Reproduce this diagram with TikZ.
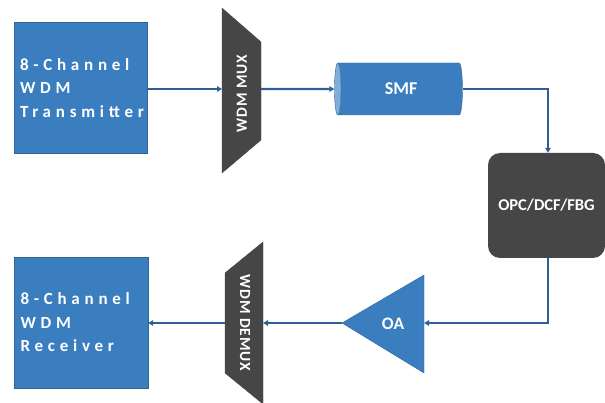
\documentclass[tikz,border=0pt]{standalone}
\usepackage{fontspec}
\setmainfont{Carlito}
\newfontfamily\spacedfont[LetterSpace=28]{Carlito}
\newfontfamily\muxfont[LetterSpace=6]{Carlito}
\usepackage{tikz}
\usetikzlibrary{arrows.meta, positioning, shapes.geometric}

\definecolor{boxblue}{HTML}{3A7EC0}
\definecolor{edgeblue}{HTML}{2F6595}
\definecolor{capblue}{HTML}{7EAED9}
\definecolor{linkblue}{HTML}{2E6096}
\definecolor{darkbox}{HTML}{464646}

\begin{document}
\begin{tikzpicture}[x=1pt, y=1pt, >={Triangle[length=5pt, width=5.5pt]},
  endbox/.style={draw=edgeblue, fill=boxblue, minimum width=133pt, minimum height=131pt,
    text=white, align=left, text width=121pt, font=\fontsize{17}{23.5}\spacedfont\bfseries},
  link/.style={->, line width=2.2pt, linkblue},
  wdm/.style={fill=darkbox, draw=darkbox},
  ]
  \useasboundingbox (0,0) rectangle (605,402);

  % End boxes
  \node[endbox] (tx) at (80.5,314) {8-Channel\\WDM\\Transmitter};
  \node[endbox, minimum width=134pt] (rx) at (81,79.5) {8-Channel\\WDM\\Receiver};

  % MUX and DEMUX
  \draw[wdm] (222,394) -- (261,360) -- (261,262) -- (222,229) -- cycle;
  \node[rotate=90, text=white, font=\fontsize{15.5}{15.5}\muxfont\bfseries] (mux) at (242,308.5) {WDM MUX};
  \coordinate (mux-in) at (222,313);
  \coordinate (mux-out) at (261,313);
  \draw[wdm] (225,129) -- (263,160) -- (263,-2) -- (225,29) -- cycle;
  \node[rotate=-90, text=white, font=\fontsize{15.5}{15.5}\muxfont\bfseries] (demux) at (245,79) {WDM DEMUX};
  \coordinate (demux-in) at (263,79);
  \coordinate (demux-out) at (225,79);

  % Fibre
  \node[cylinder, shape border rotate=180, draw=edgeblue, aspect=0.35, minimum height=128pt, minimum width=52pt,
    cylinder uses custom fill, cylinder body fill=boxblue, cylinder end fill=capblue,
    text=white, font=\fontsize{18}{18}\selectfont\bfseries] (smf) at (401,313) {SMF\hspace{12pt}};

  % Compensation
  \node[fill=darkbox, rounded corners=12pt, minimum width=117pt, minimum height=105pt,
    text=white, font=\fontsize{16.5}{16.5}\selectfont\bfseries] (opc) at (546.5,196.5) {OPC/DCF/FBG};

  % Amplifier
  \draw[draw=edgeblue, fill=boxblue] (424,127) -- (342,79) -- (424,29) -- cycle;
  \node[text=white, font=\fontsize{17.5}{17.5}\selectfont\bfseries] (oa) at (393,78) {OA};
  \coordinate (oa-in) at (424,79);
  \coordinate (oa-out) at (342,79);

  % Links
  \draw[link] (tx.east |- mux-in) -- (mux-in);
  \draw[link] (mux-out) -- (smf.west);
  \draw[link] (smf.east) -| ([xshift=1.5pt]opc.north);
  \draw[link] ([xshift=1.5pt]opc.south) |- (oa-in);
  \draw[link] (oa-out) -- (demux-in);
  \draw[link] (demux-out) -- (rx.east |- demux-out);
\end{tikzpicture}
\end{document}
